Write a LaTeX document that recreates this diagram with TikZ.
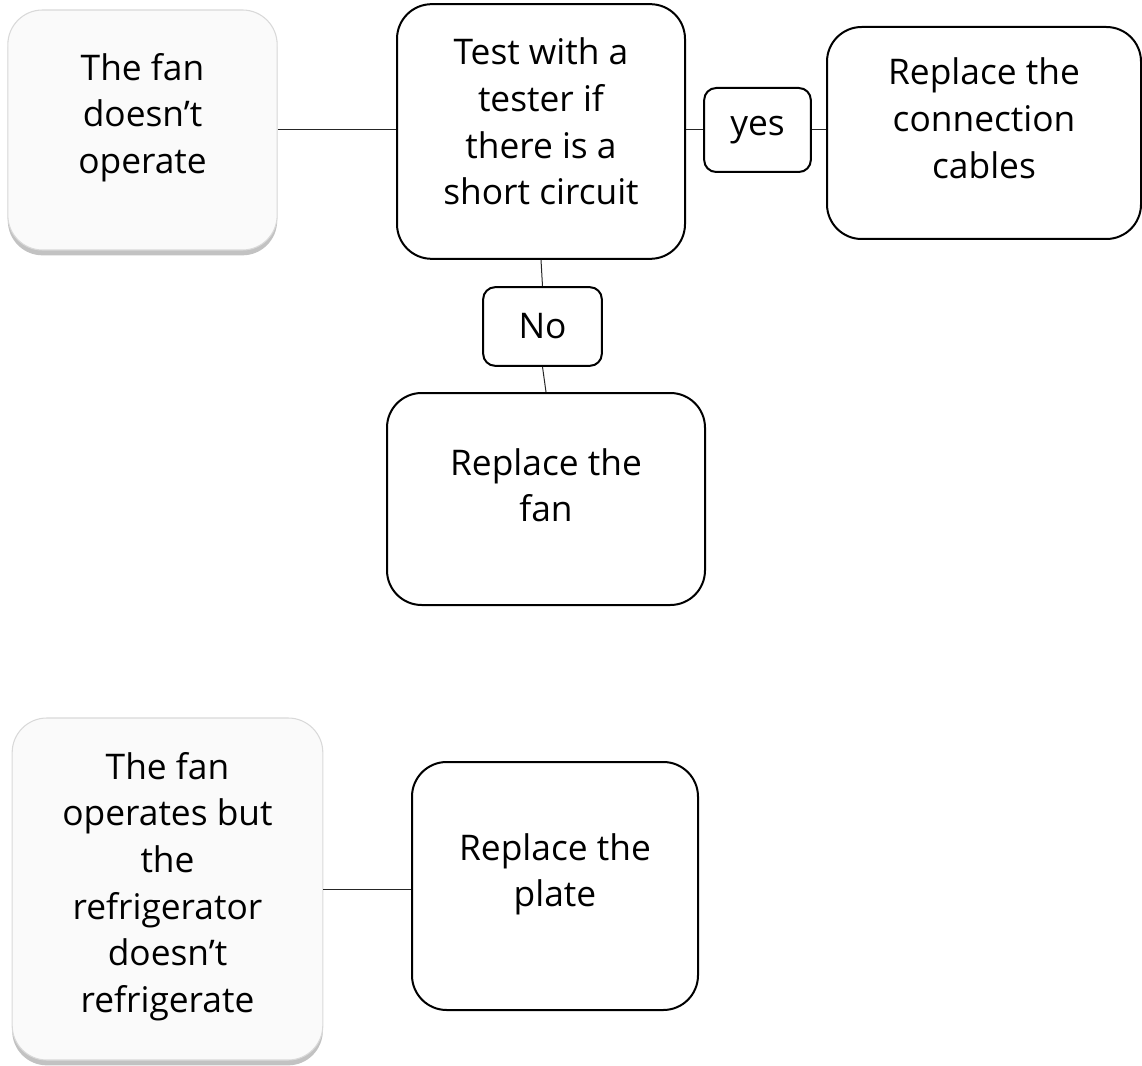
\documentclass[tikz,border=0pt]{standalone}
\usepackage{fontspec}
\setmainfont{Open Sans}
\usetikzlibrary{shadows}

\tikzset{
    stepbox/.style={draw=black, line width=1.5pt, rounded corners=26pt, fill=white,
        align=center, font=\fontsize{26.5}{35}\selectfont},
    answer/.style={draw=black, line width=1.5pt, rounded corners=9pt, fill=white,
        font=\fontsize{26.5}{35}\selectfont},
    fault/.style={draw=black!15, line width=0.8pt, rounded corners=26pt, fill=black!2,
        align=center, font=\fontsize{26.5}{35}\selectfont,
        drop shadow={shadow xshift=0pt, shadow yshift=-4pt, opacity=0.4, fill=black!60}},
    lift/.style={text depth=#1},
    link/.style={draw=black!85, line width=0.75pt}
}

\begin{document}
\begin{tikzpicture}[x=0.75pt, y=-0.75pt]
                \useasboundingbox (0,0) rectangle (1142,1066);

                % first fault
                \node[fault, minimum width=202pt, minimum height=180pt, lift=25pt] (fanoff) at (142.5,130)
                    {The fan\\doesn’t\\operate};
                \node[stepbox, minimum width=216pt, minimum height=191pt, lift=15pt] (tester) at (541,131.5)
                    {Test with a\\tester if\\there is a\\short circuit};
                \node[answer, minimum width=80pt, minimum height=63pt] (yes) at (757.5,130) {yes};
                \node[stepbox, minimum width=235.5pt, minimum height=159pt, lift=22.5pt] (cables) at (984,133)
                    {Replace the\\connection\\cables};
                \node[answer, minimum width=89pt, minimum height=59pt] (no) at (542.5,326.5) {No};
                \node[stepbox, minimum width=238.5pt, minimum height=159pt, lift=21pt] (newfan) at (546,499)
                    {Replace the\\fan};

                \draw[link] (fanoff.east) -- (fanoff.east -| tester.west);
                \draw[link] (yes.west -| tester.east) -- (yes.west);
                \draw[link] (yes.east) -- (yes.east -| cables.west);
                \draw[link] (tester.south) -- (no.north);
                \draw[link] (no.south) -- (newfan.north);

                % second fault
                \node[fault, minimum width=233pt, minimum height=256.5pt, lift=10pt] (nocold) at (167.5,889)
                    {The fan\\operates but\\the\\refrigerator\\doesn’t\\refrigerate};
                \node[stepbox, minimum width=214.5pt, minimum height=186pt, lift=24pt] (plate) at (555,886)
                    {Replace the\\plate};

                \draw[link] (nocold.east) -- (nocold.east -| plate.west);
\end{tikzpicture}
\end{document}
